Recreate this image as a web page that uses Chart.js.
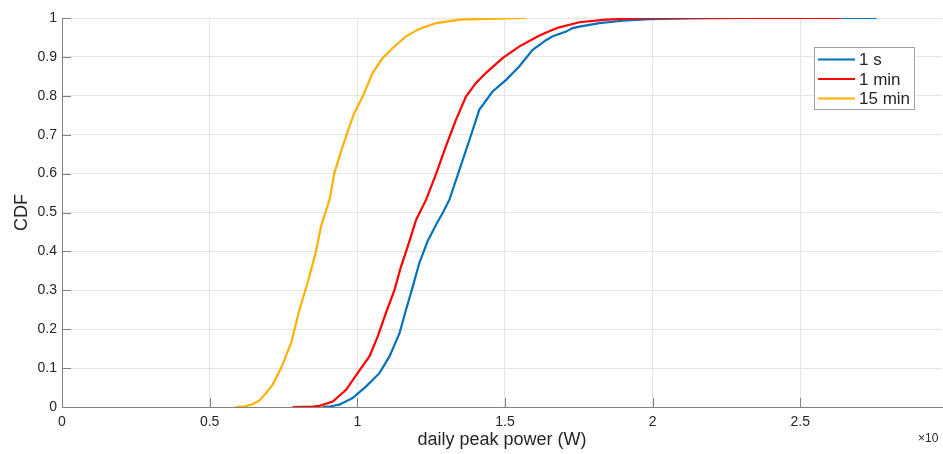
<!DOCTYPE html>
<html>
<head>
<meta charset="utf-8">
<script src="https://cdn.jsdelivr.net/npm/chart.js@4.4.1/dist/chart.umd.min.js"></script>
<style>
  html, body { margin: 0; padding: 0; background: #fff; }
  #wrap { width: 943px; height: 454px; }
</style>
</head>
<body>
<div id="wrap"><canvas id="cdfChart" width="943" height="454"></canvas></div>
<script>
// series labels / colours
const seriesNames = ['1 s', '1 min', '15 min'];
const seriesColors = ['#0072BD', '#FF0000', '#FFB000'];

// 1 s
const power1s = [0.883, 0.91, 0.939, 0.984, 1.03, 1.075, 1.109, 1.143, 1.165, 1.188, 1.21, 1.238, 1.267, 1.29, 1.312,
  1.346, 1.38, 1.413, 1.458, 1.504, 1.549, 1.594, 1.617, 1.639, 1.662, 1.707, 1.729, 1.752, 1.82, 1.898, 1.99, 2.124, 2.3, 2.758];
const cdf1s = [0, 0.002, 0.006, 0.023, 0.053, 0.087, 0.13, 0.19, 0.25, 0.31, 0.37, 0.426, 0.469, 0.5, 0.533,
  0.61, 0.687, 0.764, 0.811, 0.841, 0.876, 0.918, 0.931, 0.943, 0.953, 0.965, 0.974, 0.978, 0.987, 0.993, 0.997, 0.999, 1, 1];

// 1 min
const power1min = [0.781, 0.85, 0.872, 0.917, 0.962, 1.001, 1.041, 1.069, 1.097, 1.126, 1.148, 1.171, 1.199, 1.233,
  1.267, 1.3, 1.334, 1.368, 1.402, 1.436, 1.492, 1.549, 1.617, 1.662, 1.684, 1.752, 1.842, 1.989, 2.638];
const cdf1min = [0, 0.001, 0.003, 0.014, 0.044, 0.087, 0.13, 0.181, 0.242, 0.301, 0.361, 0.413, 0.481, 0.533,
  0.6, 0.67, 0.738, 0.798, 0.833, 0.859, 0.897, 0.927, 0.955, 0.97, 0.976, 0.989, 0.996, 1, 1];

// 15 min
const power15min = [0.587, 0.62, 0.645, 0.669, 0.69, 0.713, 0.742, 0.776, 0.804, 0.832, 0.86, 0.877, 0.906, 0.922,
  0.945, 0.973, 0.99, 1.018, 1.052, 1.086, 1.12, 1.165, 1.21, 1.267, 1.346, 1.436, 1.571];
const cdf15min = [0, 0.002, 0.007, 0.017, 0.035, 0.057, 0.1, 0.165, 0.25, 0.32, 0.4, 0.464, 0.533, 0.6,
  0.657, 0.721, 0.756, 0.798, 0.859, 0.897, 0.923, 0.953, 0.972, 0.987, 0.996, 0.998, 1];

const xTicks = [0, 0.5, 1, 1.5, 2, 2.5];
const yTicks = [0, 0.1, 0.2, 0.3, 0.4, 0.5, 0.6, 0.7, 0.8, 0.9, 1];

const toPoints = (xs, ys) => xs.map((x, i) => ({x: x, y: ys[i]}));
const allPoints = [toPoints(power1s, cdf1s), toPoints(power1min, cdf1min), toPoints(power15min, cdf15min)];

const axisColor = '#808080';
const gridColor = '#e4e4e4';
const textColor = '#262626';
const fontFamily = '"Liberation Sans", Arial, sans-serif';

// MATLAB style: inward ticks, boxed legend, exponent note
const matlabBits = {
  id: 'matlabBits',
  afterDraw(chart) {
    const ctx = chart.ctx;
    const xs = chart.scales.x, ys = chart.scales.y;
    const area = chart.chartArea;
    ctx.save();
    ctx.strokeStyle = axisColor;
    ctx.lineWidth = 1;
    ctx.beginPath();
    xTicks.forEach(v => {
      const px = Math.round(xs.getPixelForValue(v)) + 0.5;
      ctx.moveTo(px, area.bottom);
      ctx.lineTo(px, area.bottom - 9);
    });
    yTicks.forEach(v => {
      const py = Math.round(ys.getPixelForValue(v)) + 0.5;
      ctx.moveTo(area.left, py);
      ctx.lineTo(area.left + 9, py);
    });
    ctx.stroke();

    // legend box
    const bx = 814.5, by = 47.5, bw = 100, bh = 62;
    ctx.fillStyle = '#fff';
    ctx.fillRect(bx, by, bw, bh);
    ctx.strokeStyle = '#a0a0a0';
    ctx.strokeRect(bx, by, bw, bh);
    ctx.font = '17px ' + fontFamily;
    ctx.textBaseline = 'middle';
    ctx.textAlign = 'left';
    seriesNames.forEach((name, i) => {
      const ry = 59.5 + i * 19.5;
      ctx.strokeStyle = seriesColors[i];
      ctx.lineWidth = 2.2;
      ctx.beginPath();
      ctx.moveTo(818, ry);
      ctx.lineTo(855, ry);
      ctx.stroke();
      ctx.fillStyle = textColor;
      ctx.fillText(name, 859, ry + 1);
    });

    // exponent note
    ctx.font = '12px ' + fontFamily;
    ctx.fillStyle = textColor;
    ctx.textAlign = 'left';
    ctx.fillText('×10', 918, 439);
    ctx.restore();
  }
};

new Chart(document.getElementById('cdfChart'), {
  type: 'scatter',
  data: {
    datasets: seriesNames.map((name, i) => ({
      label: name,
      data: allPoints[i],
      showLine: true,
      borderColor: seriesColors[i],
      backgroundColor: seriesColors[i],
      borderWidth: 2.2,
      pointRadius: 0,
      tension: 0,
      order: 2 - i
    }))
  },
  options: {
    responsive: false,
    animation: false,
    layout: { padding: { top: 18, right: 1, left: 0, bottom: 0 } },
    plugins: {
      legend: { display: false },
      tooltip: { enabled: false }
    },
    scales: {
      x: {
        type: 'linear',
        min: 0,
        max: 2.98,
        afterFit: s => { s.height = 47; },
        afterBuildTicks: s => { s.ticks = xTicks.map(v => ({value: v})); },
        ticks: {
          includeBounds: false,
          padding: 7,
          color: textColor,
          font: { family: fontFamily, size: 14 },
          callback: v => String(v)
        },
        grid: { color: gridColor, drawTicks: false },
        border: { color: axisColor },
        title: {
          display: true,
          text: 'daily peak power (W)',
          color: textColor,
          font: { family: fontFamily, size: 18 },
          padding: { top: 0, bottom: 3 }
        }
      },
      y: {
        min: 0,
        max: 1,
        afterFit: s => { s.width = 62; },
        afterBuildTicks: s => { s.ticks = yTicks.map(v => ({value: v})); },
        ticks: {
          padding: 5,
          color: textColor,
          font: { family: fontFamily, size: 14 },
          callback: v => String(+v.toFixed(1))
        },
        grid: { color: gridColor, drawTicks: false },
        border: { color: axisColor },
        title: {
          display: true,
          text: 'CDF',
          color: textColor,
          font: { family: fontFamily, size: 18 },
          padding: { top: 11, bottom: 0 }
        }
      }
    }
  },
  plugins: [matlabBits]
});
</script>
</body>
</html>
